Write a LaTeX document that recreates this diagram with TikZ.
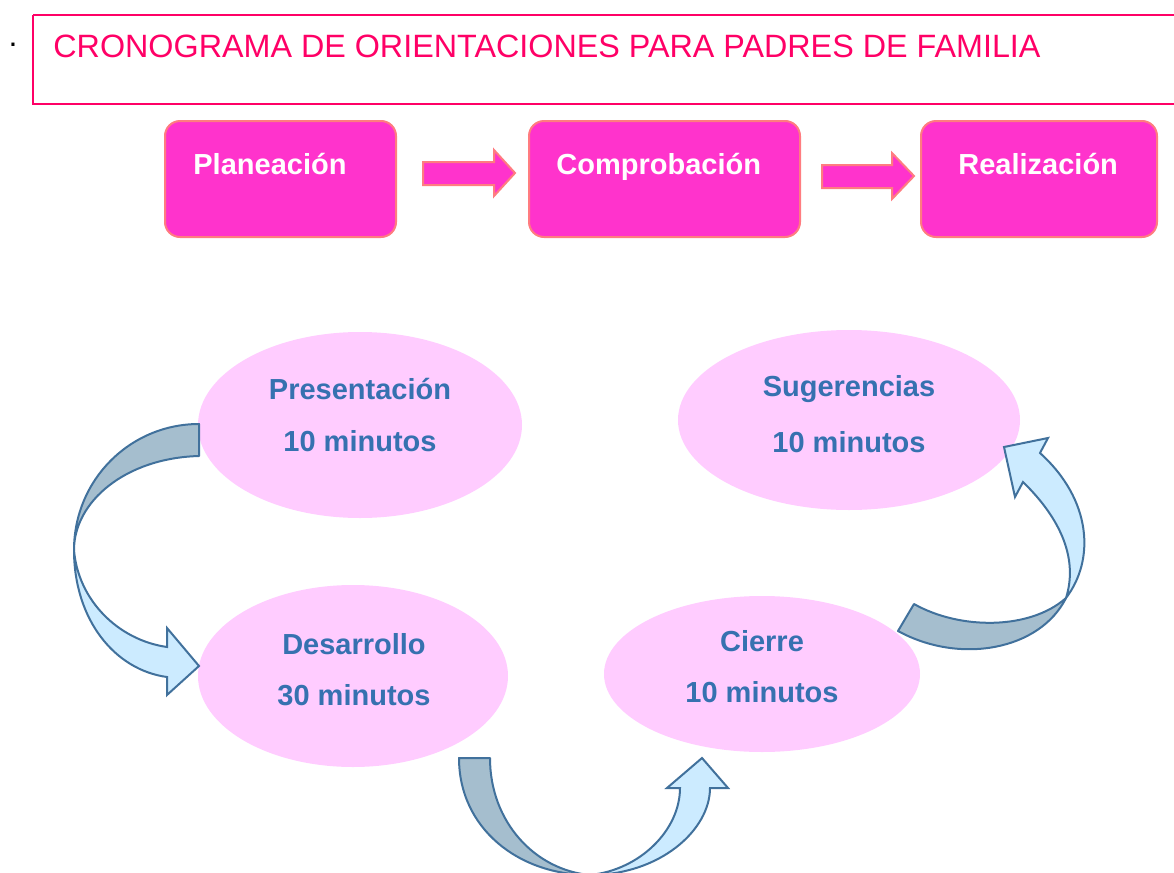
\documentclass[tikz,border=0pt]{standalone}
\usepackage{fontspec}
\setmainfont{Liberation Sans}
\definecolor{titlepink}{HTML}{FF0066}
\definecolor{boxfill}{HTML}{FF33CC}
\definecolor{boxline}{HTML}{FF7C80}
\definecolor{ellfill}{HTML}{FFCCFF}
\definecolor{txtblue}{HTML}{3671B0}
\definecolor{arrline}{HTML}{41719C}
\definecolor{arrdark}{HTML}{A5BECE}
\definecolor{arrlight}{HTML}{CCEBFF}
\tikzset{
  stepbox/.style={draw=boxline, fill=boxfill, line width=1pt, rounded corners=7.5pt},
  steptext/.style={anchor=base west, text=white, font=\fontsize{14.5}{17}\selectfont\bfseries, inner sep=0pt},
  bubble/.style={fill=ellfill, draw=none},
  bubtext/.style={anchor=base, text=txtblue, font=\fontsize{14.5}{17}\selectfont\bfseries, inner sep=0pt},
  blockarrow/.style={draw=boxline, fill=boxfill, line width=1pt},
  curvedark/.style={draw=arrline, fill=arrdark, line width=1pt, line join=round},
  curvelight/.style={draw=arrline, fill=arrlight, line width=1pt, line join=miter},
}
\begin{document}
\begin{tikzpicture}[x=0.5pt, y=-0.5pt]
\useasboundingbox (0,0) rectangle (1174,873);
% title
\node[anchor=base, inner sep=0pt, font=\fontsize{16}{19}\selectfont] (dot) at (13,46) {.};
\draw[titlepink, line width=1pt] (33,15) -- (1180,15) (33,15) -- (33,104) -- (1180,104);
\node[anchor=base west, inner sep=0pt, text=titlepink, font=\fontsize{16.15}{19}\selectfont] (title) at (53,57) {CRONOGRAMA DE ORIENTACIONES PARA PADRES DE FAMILIA};
% step boxes
\draw[stepbox] (165,121) rectangle (396,237);
\node[steptext] (plan) at (193,174) {Planeación};
\draw[stepbox] (529,121) rectangle (800,237);
\node[steptext] (comp) at (556,174) {Comprobación};
\draw[stepbox] (921,121) rectangle (1157,237);
\node[steptext] (real) at (958,174) {Realización};
% block arrows
\draw[blockarrow] (423,162) -- (494,162) -- (494,150) -- (515,173) -- (494,196) -- (494,185) -- (423,185) -- cycle;
\draw[blockarrow] (822,165) -- (892,165) -- (892,153) -- (914,176) -- (892,199) -- (892,188) -- (822,188) -- cycle;
% ellipses
\fill[bubble] (360,425) ellipse [x radius=162, y radius=93];
\fill[bubble] (849,420) ellipse [x radius=171, y radius=90];
\fill[bubble] (353,676) ellipse [x radius=155, y radius=91];
\fill[bubble] (762,674) ellipse [x radius=158, y radius=78];
\node[bubtext] (pres) at (360,399) {Presentación};
\node[bubtext] (pres10) at (360,451) {10 minutos};
\node[bubtext] (sug) at (849,396) {Sugerencias};
\node[bubtext] (sug10) at (849,452) {10 minutos};
\node[bubtext] (des) at (354,654) {Desarrollo};
\node[bubtext] (des30) at (354,705) {30 minutos};
\node[bubtext] (cie) at (762,651) {Cierre};
\node[bubtext] (cie10) at (762,702) {10 minutos};
% left curved arrow
\draw[curvedark] (199,424) .. controls (130,424) and (74,480) .. (74,550)
   .. controls (74,502) and (125,458) .. (199,456) -- cycle;
\draw[curvelight] (74,550) .. controls (74,620) and (115,670) .. (167,677)
   -- (167,695) -- (199,666) -- (167,628) -- (167,647)
   .. controls (118,640) and (78,600) .. (74,550) -- cycle;
% bottom curved arrow
\draw[curvedark] (459,758) .. controls (459,828) and (518,875) .. (590,875)
   .. controls (535,870) and (490,822) .. (490,758) -- cycle;
\draw[curvelight] (590,875) .. controls (660,875) and (710,830) .. (710,788)
   -- (728,788) -- (702,758) -- (667,788) -- (680,788)
   .. controls (680,830) and (640,870) .. (590,875) -- cycle;
% right curved arrow
\draw[curvedark] (898,631) -- (914,604)
   .. controls (960,630) and (1030,630) .. (1066,598)
   .. controls (1040,650) and (960,665) .. (898,631) -- cycle;
\draw[curvelight] (1066,598) .. controls (1095,560) and (1092,500) .. (1040,453)
   -- (1048,438) -- (1004,447) -- (1015,497) -- (1023,482)
   .. controls (1062,520) and (1078,560) .. (1066,598) -- cycle;
\end{tikzpicture}
\end{document}
